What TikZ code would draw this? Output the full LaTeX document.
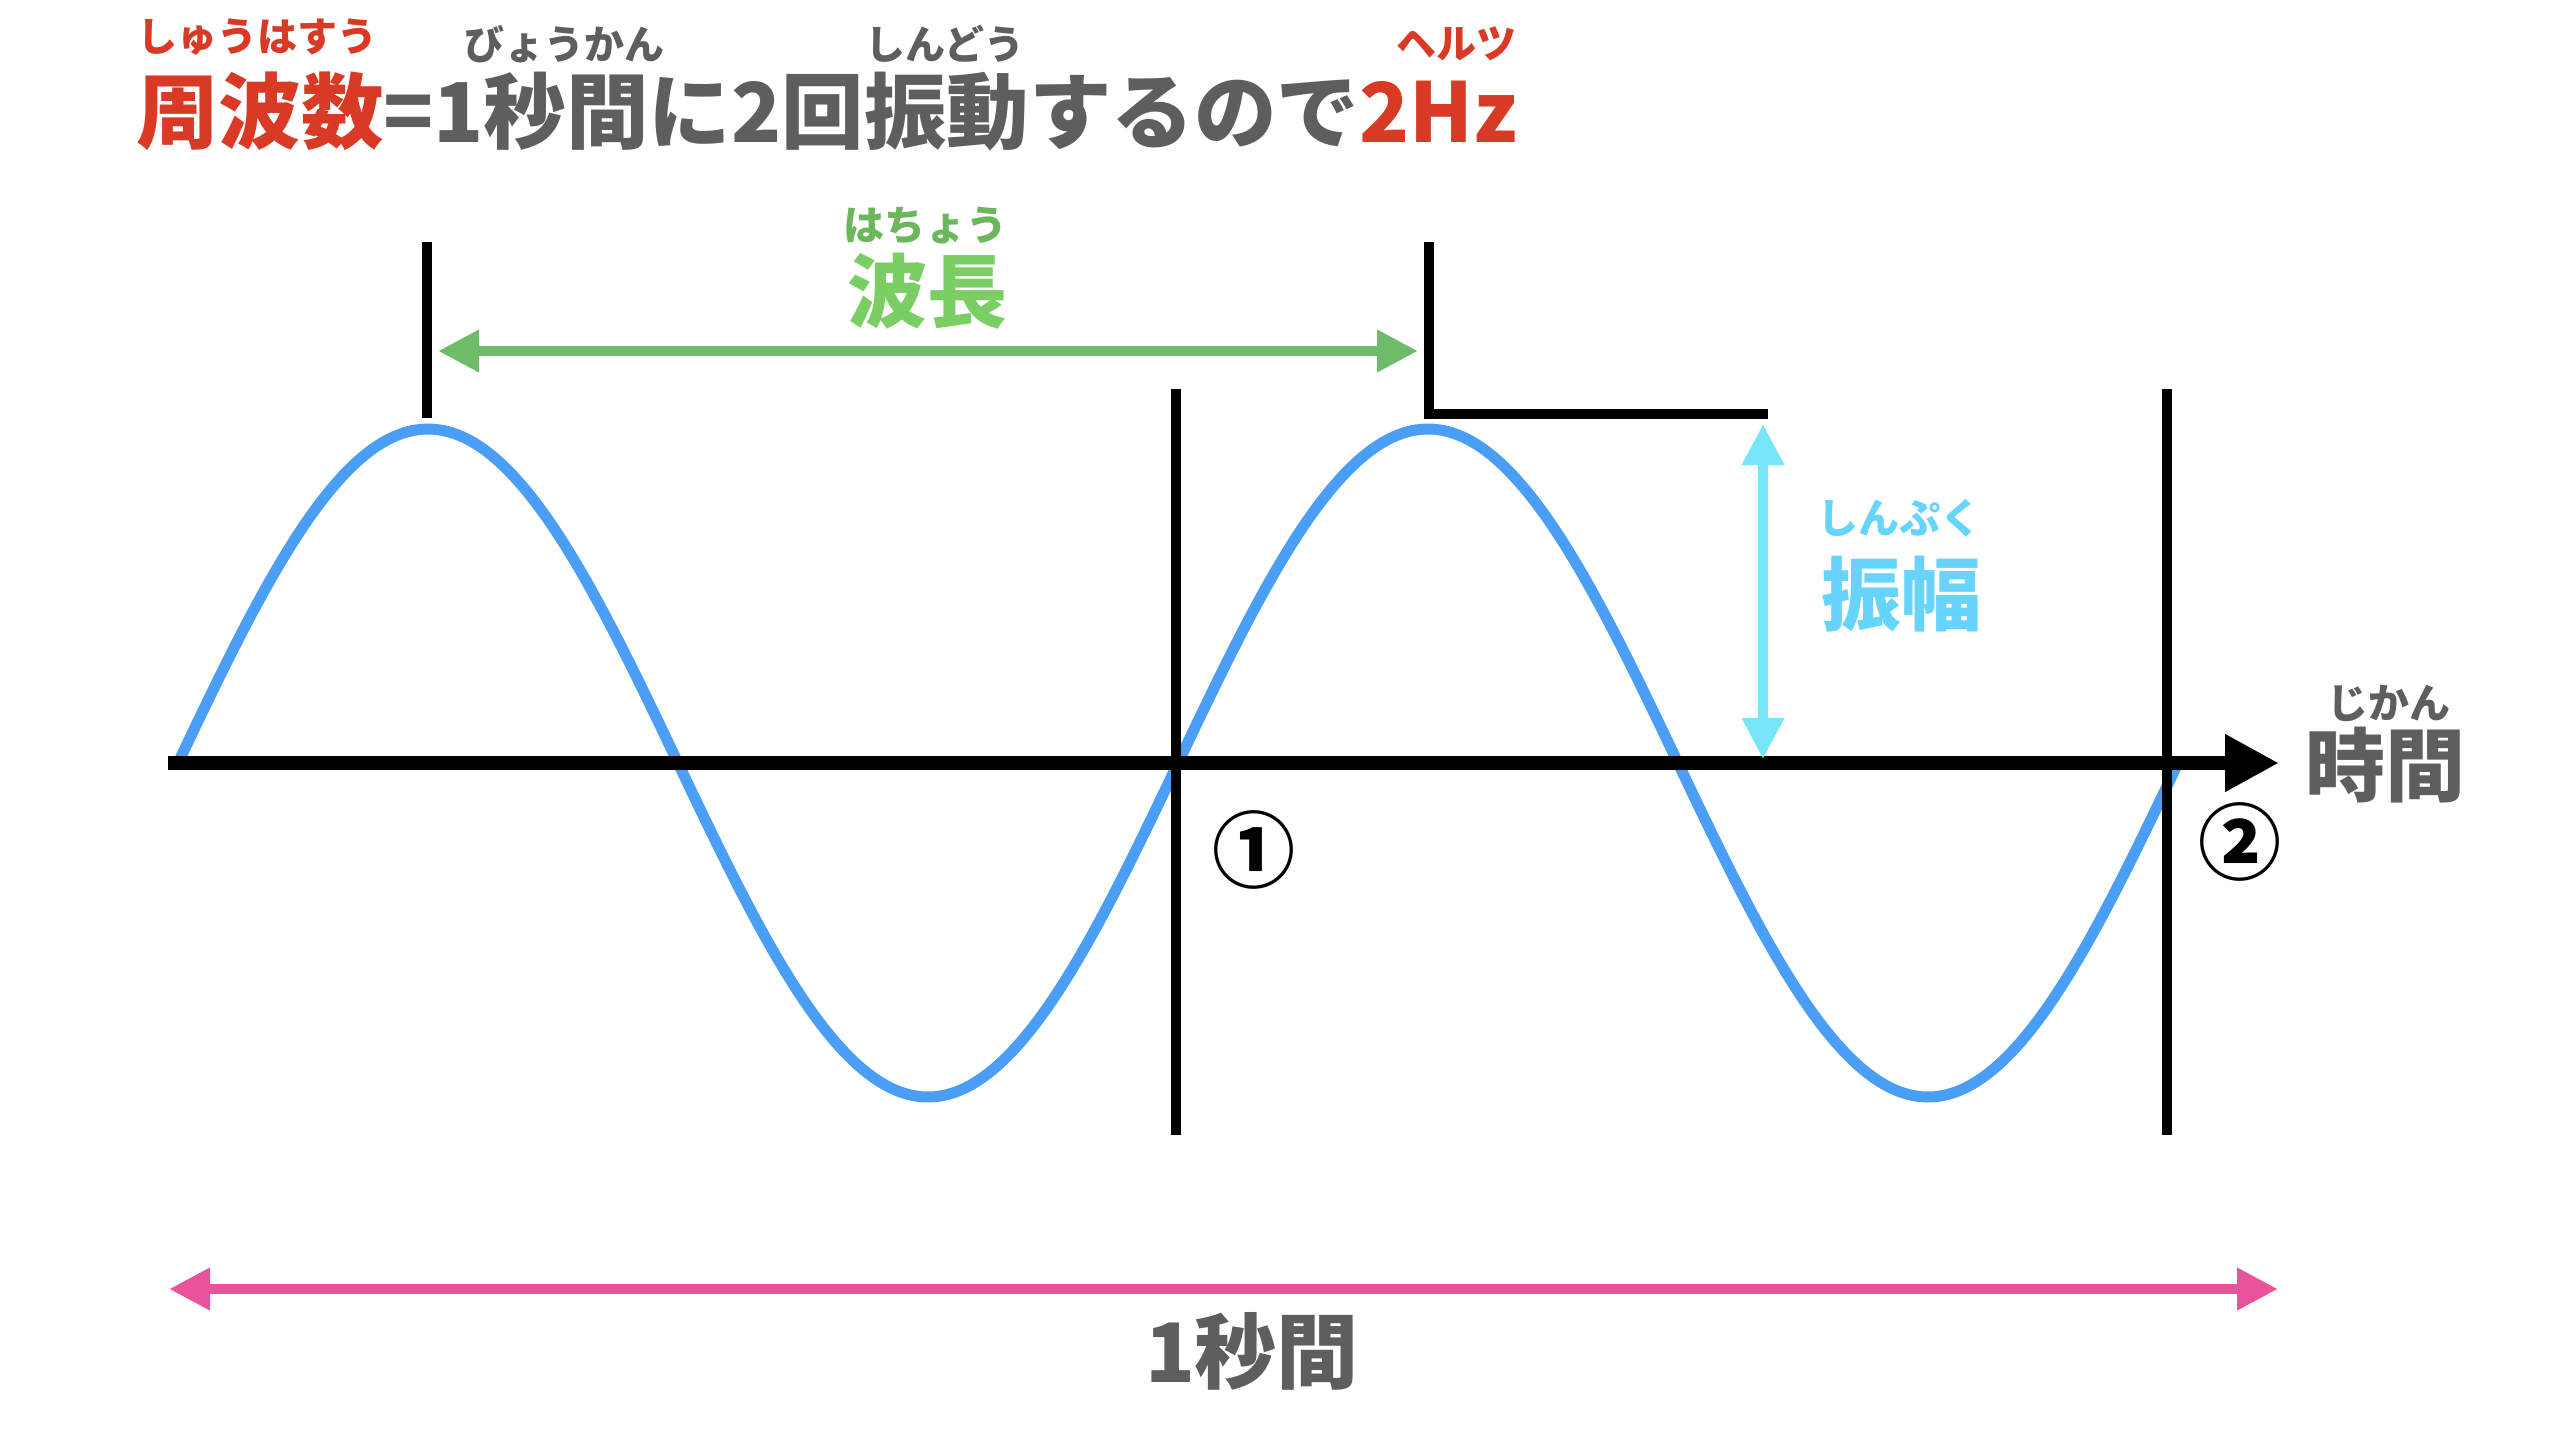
\documentclass[tikz,border=0pt]{standalone}
\usepackage{fontspec}
\setmainfont{Noto Sans CJK JP}
\usetikzlibrary{arrows.meta}
\definecolor{sineblue}{RGB}{74,158,245}
\definecolor{garrow}{RGB}{110,187,106}
\definecolor{gtext}{RGB}{122,206,100}
\definecolor{gruby}{RGB}{108,182,92}
\definecolor{ctext}{RGB}{102,212,252}
\definecolor{carrow}{RGB}{120,230,250}
\definecolor{pinkc}{RGB}{233,83,154}
\definecolor{redc}{RGB}{217,58,38}
\definecolor{greyc}{RGB}{94,94,94}
\newcommand{\fs}[1]{\fontsize{#1}{#1}\selectfont\bfseries}
\tikzset{
  lbl/.style={inner sep=0pt, outer sep=0pt, anchor=center},
  blackline/.style={line width=10pt, black},
  dblarrow/.style={line width=10pt, {Triangle[length=41pt,width=40pt]}-{Triangle[length=41pt,width=40pt]}},
}
\begin{document}
\begin{tikzpicture}[x=1pt,y=-1pt]
\useasboundingbox (0,0) rectangle (2564,1444);
% sine
\draw[sineblue, line width=11pt, line cap=butt]
  plot[domain=0:720, samples=240, smooth] ({178+2.777778*\x},{763-334*sin(\x)});
% coordinates
\coordinate (axL) at (168,763);
\coordinate (axR) at (2279,763);
\coordinate (v1t) at (427,242); \coordinate (v1b) at (427,418);
\coordinate (v2t) at (1429,242); \coordinate (v2r) at (1768,414);
\coordinate (v3t) at (1176,389); \coordinate (v3b) at (1176,1135);
\coordinate (v4t) at (2167,389); \coordinate (v4b) at (2167,1135);
\coordinate (gL) at (438,351); \coordinate (gR) at (1418,351);
\coordinate (cT) at (1763,424); \coordinate (cB) at (1763,759);
\coordinate (pL) at (169,1289); \coordinate (pR) at (2278,1289);
% axis
\draw[line width=14pt, -{Triangle[length=54pt,width=54pt]}] (axL) -- (axR);
% black lines
\draw[blackline] (v1t) -- (v1b);
\draw[blackline, line join=miter] (v2t) |- (v2r);
\draw[blackline] (v3t) -- (v3b);
\draw[blackline] (v4t) -- (v4b);
% arrows
\draw[dblarrow, garrow] (gL) -- (gR);
\draw[dblarrow, carrow] (cT) -- (cB);
\draw[dblarrow, pinkc] (pL) -- (pR);
% title
\node[lbl, anchor=west] (title) at (136,111) {\fs{82.5}\color{redc}周波数\color{greyc}=1秒間に2回振動するので\color{redc}2Hz};
\node[lbl] (r1) at (257,37) {\fs{40}\color{redc}しゅうはすう};
\node[lbl] (r2) at (564,44) {\fs{40}\color{greyc}びょうかん};
\node[lbl] (r3) at (945,44) {\fs{40}\color{greyc}しんどう};
\node[lbl] (r4) at (1456,44) {\fs{40}\color{redc}ヘルツ};
% labels
\node[lbl] (hacho) at (927,291) {\fs{80}\color{gtext}波長};
\node[lbl] (hachor) at (925,226) {\fs{41}\color{gruby}はちょう};
\node[lbl] (shinp) at (1901,594) {\fs{80}\color{ctext}振幅};
\node[lbl] (shinpr) at (1899,518) {\fs{41}\color{ctext}しんぷく};
\node[lbl] (jikan) at (2385,765) {\fs{80}\color{greyc}時間};
\node[lbl] (jikanr) at (2389,703) {\fs{41}\color{greyc}じかん};
\node[lbl] (n1) at (1254,850) {\fs{83}①};
\node[lbl] (n2) at (2240,842) {\fs{83}②};
\node[lbl] (sec) at (1252,1351) {\fs{82}\color{greyc}1秒間};
\end{tikzpicture}
\end{document}
